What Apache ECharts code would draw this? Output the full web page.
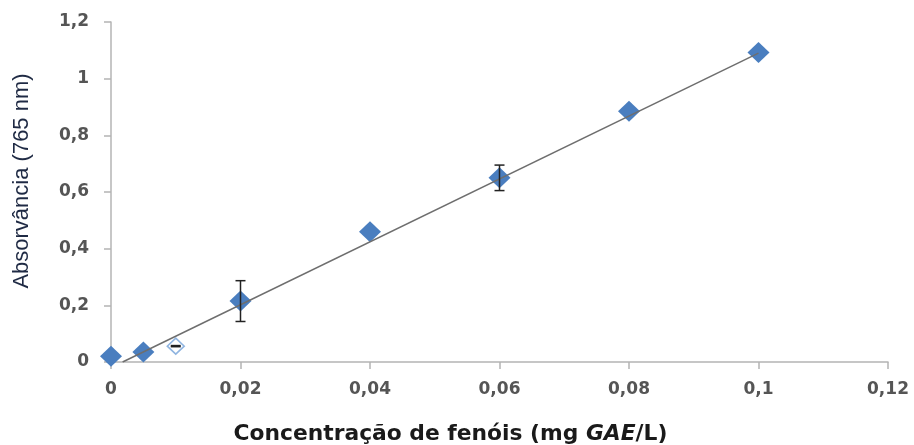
<!DOCTYPE html>
<html>
<head>
<meta charset="utf-8">
<script src="https://cdn.jsdelivr.net/npm/echarts@6/dist/echarts.min.js"></script>
<style>
  html, body { margin: 0; padding: 0; background: #fff; }
  #chart { width: 914px; height: 445px; }
</style>
</head>
<body>
<div id="chart"></div>
<script>
// Calibration standards (mg GAE/L) and measured absorbance at 765 nm
const concentration = [0, 0.005, 0.02, 0.04, 0.06, 0.08, 0.1];
const absorbance    = [0.02, 0.035, 0.215, 0.46, 0.65, 0.885, 1.092];
const stdDev        = [0, 0, 0.072, 0, 0.045, 0, 0];

// Point left out of the calibration fit
const outlierX   = [0.01];
const outlierY   = [0.056];
const outlierErr = [0.002];

// Linear calibration fit endpoints
const fitX = [0.0018, 0.1];
const fitY = [0.0, 1.09];

// Axis ticks
const xTicks = [0, 0.02, 0.04, 0.06, 0.08, 0.1, 0.12];
const yTicks = [0, 0.2, 0.4, 0.6, 0.8, 1, 1.2];

const fmt = v => String(+v.toFixed(3)).replace('.', ',');

const pts = concentration.map((x, i) => [x, absorbance[i]]);
const errData = concentration.map((x, i) => [x, absorbance[i] - stdDev[i], absorbance[i] + stdDev[i]])
  .filter((d, i) => stdDev[i] > 0)
  .concat(outlierX.map((x, i) => [x, outlierY[i] - outlierErr[i], outlierY[i] + outlierErr[i]]));

const tickLabel = { formatter: fmt, fontFamily: 'DejaVu Sans', fontWeight: 'bold', fontSize: 17, color: '#555555' };

const chart = echarts.init(document.getElementById('chart'));
chart.setOption({
  animation: false,
  grid: { left: 111, right: 26, top: 22, bottom: 83, containLabel: false, outerBoundsMode: 'none' },
  xAxis: {
    type: 'value',
    min: xTicks[0], max: xTicks[xTicks.length - 1], interval: 0.02,
    name: '{b|Concentração de fenóis (mg }{bi|GAE}{b|/L)}',
    nameLocation: 'middle', nameGap: 61,
    nameTextStyle: {
      padding: [0, 98, 0, 0],
      rich: {
        b: { fontFamily: 'DejaVu Sans', fontWeight: 'bold', fontSize: 21.8, color: '#1a1a1a' },
        bi: { fontFamily: 'DejaVu Sans', fontWeight: 'bold', fontStyle: 'italic', fontSize: 21.8, color: '#1a1a1a' }
      }
    },
    axisLine: { lineStyle: { color: '#b4b4b4', width: 1.5 } },
    axisTick: { show: true, length: 7, lineStyle: { color: '#b4b4b4', width: 1.5 } },
    axisLabel: Object.assign({ margin: 19 }, tickLabel),
    splitLine: { show: false }
  },
  yAxis: {
    type: 'value',
    min: yTicks[0], max: yTicks[yTicks.length - 1], interval: 0.2,
    name: 'Absorvância (765 nm)',
    nameLocation: 'middle', nameGap: 78, nameRotate: 90,
    nameTextStyle: { fontFamily: 'Liberation Sans Narrow, Liberation Sans', fontSize: 22, color: '#1f2a44', padding: [0, 0, 0, 22] },
    axisLine: { show: true, lineStyle: { color: '#b4b4b4', width: 1.5 } },
    axisTick: { show: true, length: 7, lineStyle: { color: '#b4b4b4', width: 1.5 } },
    axisLabel: Object.assign({ margin: 22 }, tickLabel),
    splitLine: { show: false }
  },
  series: [
    {
      type: 'scatter',
      data: pts,
      symbol: 'diamond',
      symbolSize: [22, 21],
      itemStyle: { color: '#4a7ebf', opacity: 1 },
      z: 2
    },
    {
      type: 'scatter',
      data: outlierX.map((x, i) => [x, outlierY[i]]),
      symbol: 'diamond',
      symbolSize: [17, 16],
      itemStyle: { color: '#ffffff', borderColor: '#8fb4e0', borderWidth: 1.5, opacity: 1 },
      z: 2
    },
    {
      type: 'custom',
      data: errData,
      z: 4,
      renderItem: function (params, api) {
        const x = api.value(0);
        const lo = api.coord([x, api.value(1)]);
        const hi = api.coord([x, api.value(2)]);
        const hw = 5;
        const style = { stroke: '#222', lineWidth: 1.5 };
        return {
          type: 'group',
          children: [
            { type: 'line', shape: { x1: lo[0], y1: lo[1], x2: hi[0], y2: hi[1] }, style: style },
            { type: 'line', shape: { x1: lo[0] - hw, y1: lo[1], x2: lo[0] + hw, y2: lo[1] }, style: style },
            { type: 'line', shape: { x1: hi[0] - hw, y1: hi[1], x2: hi[0] + hw, y2: hi[1] }, style: style }
          ]
        };
      }
    },
    {
      type: 'line',
      data: fitX.map((x, i) => [x, fitY[i]]),
      showSymbol: false,
      lineStyle: { color: '#6e6e6e', width: 1.5 },
      z: 3
    }
  ]
});
</script>
</body>
</html>
